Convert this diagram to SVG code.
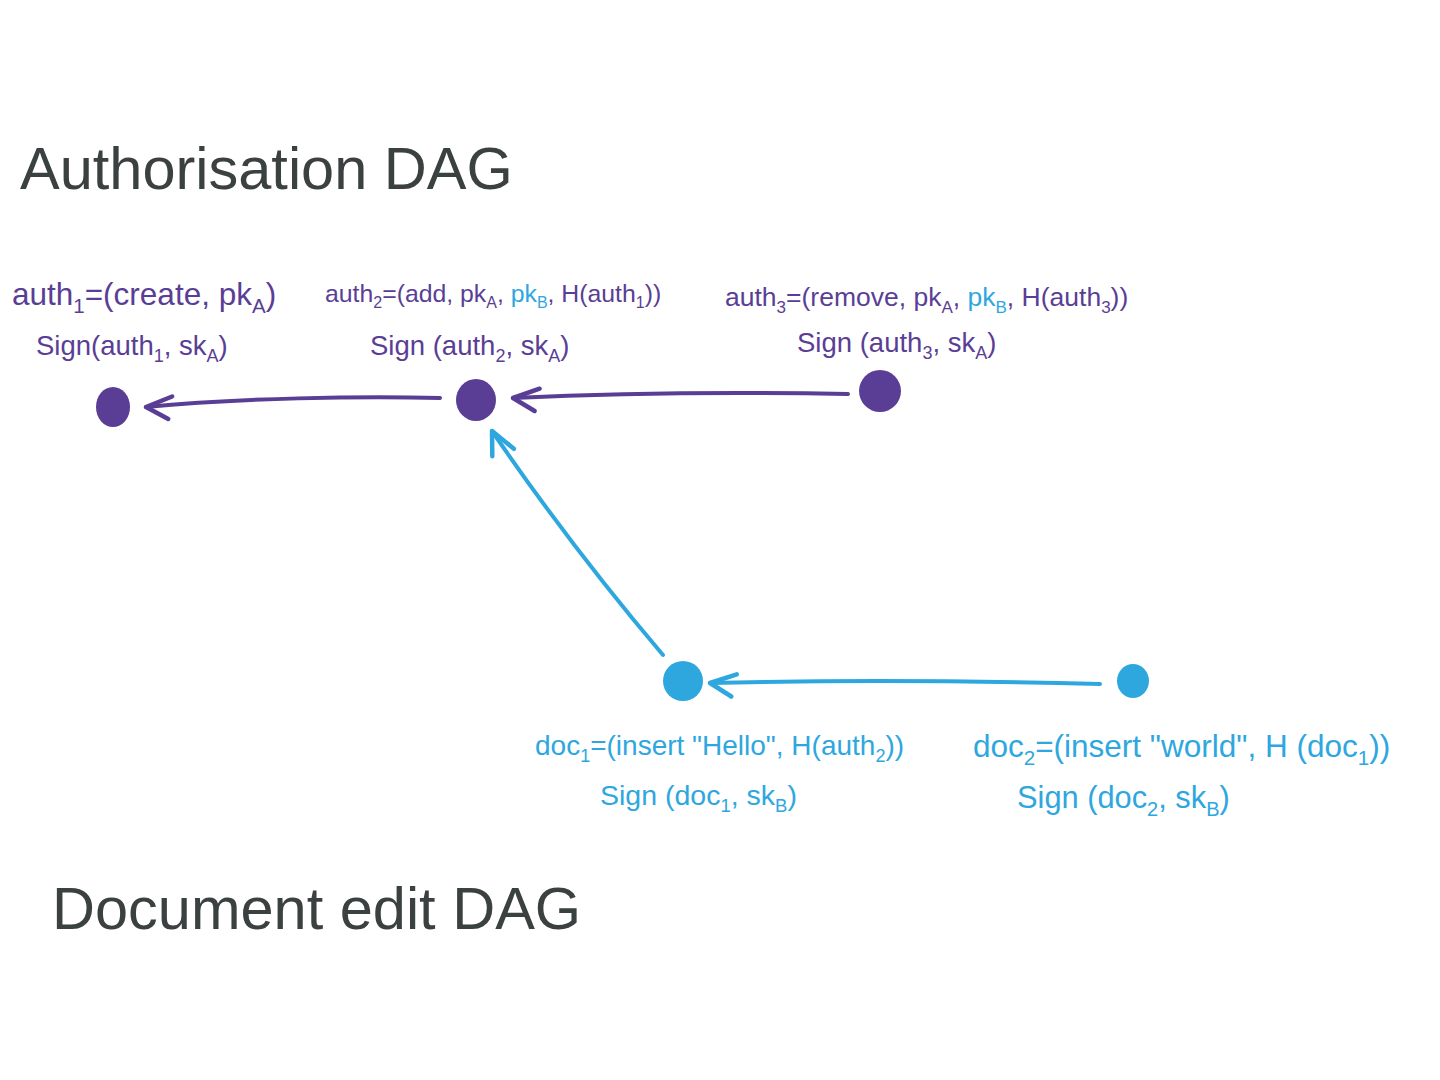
<svg xmlns="http://www.w3.org/2000/svg" width="1440" height="1080" viewBox="0 0 1440 1080">
<defs>
<style>
.title{font-family:"Liberation Sans","DejaVu Sans",sans-serif;fill:#3b4040;}
.lbl{font-family:"Liberation Sans","DejaVu Sans",sans-serif;}
.p{fill:#5a3e96;}
.b{fill:#2ea7df;}
.ep{fill:none;stroke:#5a3e96;stroke-width:4;stroke-linecap:round;stroke-linejoin:round;}
.eb{fill:none;stroke:#2ea7df;stroke-width:4;stroke-linecap:round;stroke-linejoin:round;}
</style>
<marker id="ap" markerUnits="userSpaceOnUse" markerWidth="40" markerHeight="40" refX="0" refY="0" viewBox="-32 -20 40 40" orient="auto" overflow="visible">
<path d="M-21,-14 L0,0 L-27,8" fill="none" stroke="#5a3e96" stroke-width="4.5" stroke-linecap="round" stroke-linejoin="round"/>
</marker>
<marker id="ab" markerUnits="userSpaceOnUse" markerWidth="40" markerHeight="40" refX="0" refY="0" viewBox="-32 -20 40 40" orient="auto" overflow="visible">
<path d="M-21,-14 L0,0 L-27,8" fill="none" stroke="#2ea7df" stroke-width="4.5" stroke-linecap="round" stroke-linejoin="round"/>
</marker>
</defs>
<rect width="1440" height="1080" fill="#ffffff"/>

<g id="titles">
<text class="title" x="20" y="189" font-size="59.5">Authorisation DAG</text>
<text class="title" x="52" y="929" font-size="59.5">Document edit DAG</text>
</g>

<g id="connectors">
<path class="ep" d="M440,398 C360,396 240,398 146,407" marker-end="url(#ap)"/>
<path class="ep" d="M848,394 C740,392 620,393 513,398" marker-end="url(#ap)"/>
<path class="eb" d="M663,655 Q572,548 492,431" marker-end="url(#ab)"/>
<path class="eb" d="M1100,684 C980,681 840,680 710,683" marker-end="url(#ab)"/>
</g>

<g id="auth1">
<ellipse class="p" cx="113" cy="407" rx="17" ry="20"/>
<text class="lbl p" x="12" y="305" font-size="31.5">auth<tspan font-size="20.5" dy="8">1</tspan><tspan dy="-8">=(create, pk</tspan><tspan font-size="20.5" dy="8">A</tspan><tspan dy="-8">)</tspan></text>
<text class="lbl p" x="36" y="355" font-size="27.5">Sign(auth<tspan font-size="18" dy="7">1</tspan><tspan dy="-7">, sk</tspan><tspan font-size="18" dy="7">A</tspan><tspan dy="-7">)</tspan></text>
</g>

<g id="auth2">
<ellipse class="p" cx="476" cy="400" rx="20" ry="21"/>
<text class="lbl p" x="325" y="302" font-size="24.8">auth<tspan font-size="16" dy="6">2</tspan><tspan dy="-6">=(add, pk</tspan><tspan font-size="16" dy="6">A</tspan><tspan dy="-6">, </tspan><tspan class="b">pk</tspan><tspan class="b" font-size="16" dy="6">B</tspan><tspan dy="-6">, H(auth</tspan><tspan font-size="16" dy="6">1</tspan><tspan dy="-6">))</tspan></text>
<text class="lbl p" x="370" y="355" font-size="27.5">Sign (auth<tspan font-size="18" dy="7">2</tspan><tspan dy="-7">, sk</tspan><tspan font-size="18" dy="7">A</tspan><tspan dy="-7">)</tspan></text>
</g>

<g id="auth3">
<ellipse class="p" cx="880" cy="391" rx="21" ry="21"/>
<text class="lbl p" x="725" y="306" font-size="26.5">auth<tspan font-size="17" dy="7">3</tspan><tspan dy="-7">=(remove, pk</tspan><tspan font-size="17" dy="7">A</tspan><tspan dy="-7">, </tspan><tspan class="b">pk</tspan><tspan class="b" font-size="17" dy="7">B</tspan><tspan dy="-7">, H(auth</tspan><tspan font-size="17" dy="7">3</tspan><tspan dy="-7">))</tspan></text>
<text class="lbl p" x="797" y="352" font-size="27.5">Sign (auth<tspan font-size="18" dy="7">3</tspan><tspan dy="-7">, sk</tspan><tspan font-size="18" dy="7">A</tspan><tspan dy="-7">)</tspan></text>
</g>

<g id="doc1">
<ellipse class="b" cx="683" cy="681" rx="20" ry="20"/>
<text class="lbl b" x="535" y="755" font-size="28">doc<tspan font-size="18" dy="7">1</tspan><tspan dy="-7">=(insert "Hello", H(auth</tspan><tspan font-size="18" dy="7">2</tspan><tspan dy="-7">))</tspan></text>
<text class="lbl b" x="600" y="805" font-size="28.5">Sign (doc<tspan font-size="18.5" dy="7">1</tspan><tspan dy="-7">, sk</tspan><tspan font-size="18.5" dy="7">B</tspan><tspan dy="-7">)</tspan></text>
</g>

<g id="doc2">
<ellipse class="b" cx="1133" cy="681" rx="16" ry="17"/>
<text class="lbl b" x="973" y="757" font-size="31.5">doc<tspan font-size="20.5" dy="8">2</tspan><tspan dy="-8">=(insert "world", H (doc</tspan><tspan font-size="20.5" dy="8">1</tspan><tspan dy="-8">))</tspan></text>
<text class="lbl b" x="1017" y="808" font-size="30.8">Sign (doc<tspan font-size="20" dy="8">2</tspan><tspan dy="-8">, sk</tspan><tspan font-size="20" dy="8">B</tspan><tspan dy="-8">)</tspan></text>
</g>
</svg>
